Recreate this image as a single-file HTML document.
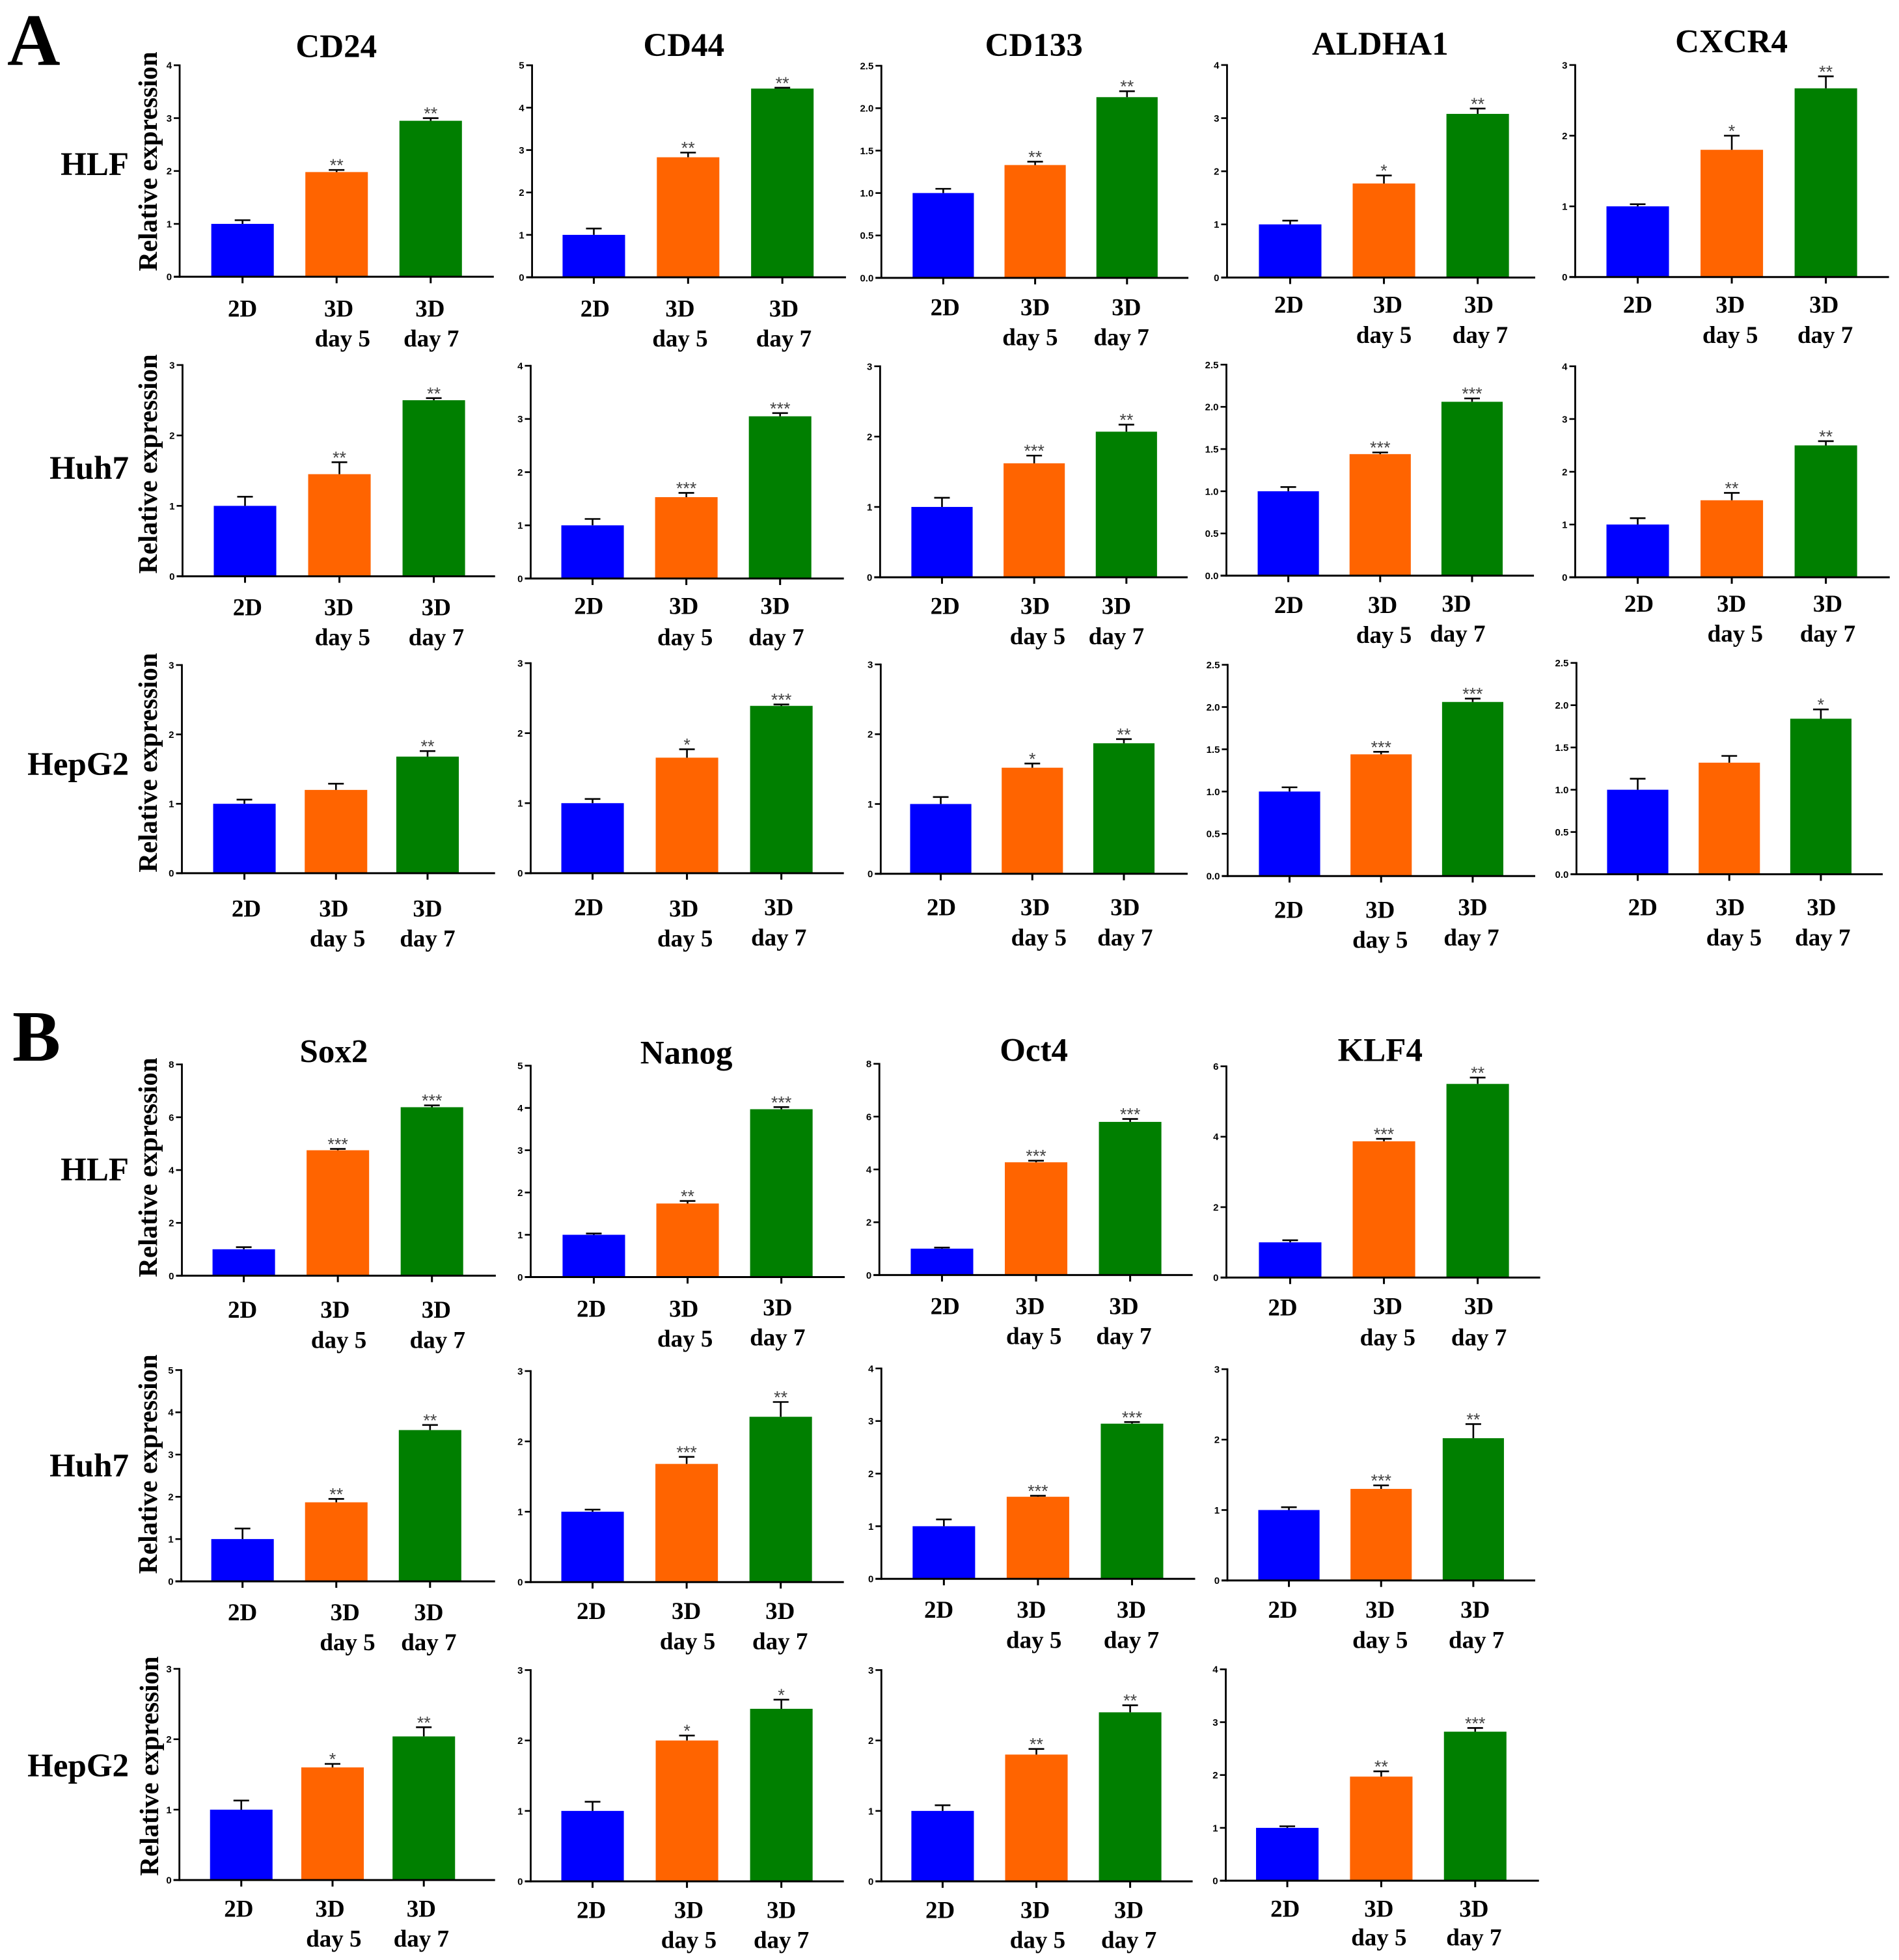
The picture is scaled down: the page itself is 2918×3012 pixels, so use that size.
<!DOCTYPE html>
<html lang="en">
<head>
<meta charset="utf-8">
<title>Relative expression of stemness markers in 2D and 3D culture</title>
<style>
html,body{margin:0;padding:0;background:#fff;width:2918px;height:3012px;overflow:hidden}
svg{display:block}
text{font-family:"Liberation Serif",serif;font-weight:bold;fill:#000}
.tick{font-family:"Liberation Sans",sans-serif;font-size:15px;text-anchor:end}
.star{font-family:"Liberation Sans",sans-serif;font-size:27px;font-weight:normal;text-anchor:middle;fill:#444}
.cat{font-size:37px;text-anchor:middle}
.title{font-size:51px;text-anchor:middle}
.row{font-size:51px;text-anchor:end}
.ylab{font-size:41px;text-anchor:middle}
</style>
</head>
<body>
<svg id="figure" xmlns="http://www.w3.org/2000/svg" width="2918" height="3012" viewBox="0 0 2918 3012">
<rect width="2918" height="3012" fill="#fff"/>
<text x="11" y="100" font-size="113">A</text>
<text x="19" y="1630" font-size="111">B</text>
<text class="row" x="198" y="269">HLF</text>
<text class="row" x="198" y="736">Huh7</text>
<text class="row" x="198" y="1191">HepG2</text>
<text class="row" x="198" y="1814">HLF</text>
<text class="row" x="198" y="2269">Huh7</text>
<text class="row" x="198" y="2730">HepG2</text>
<text class="ylab" transform="translate(241 248) rotate(-90)">Relative expression</text>
<text class="ylab" transform="translate(241 713) rotate(-90)">Relative expression</text>
<text class="ylab" transform="translate(241 1172) rotate(-90)">Relative expression</text>
<text class="ylab" transform="translate(241 1794) rotate(-90)">Relative expression</text>
<text class="ylab" transform="translate(241 2250) rotate(-90)">Relative expression</text>
<text class="ylab" transform="translate(243 2714) rotate(-90)">Relative expression</text>
</svg>
<script>
/* ---------- chart data ---------- */
const categories = ["2D", "3D", "day 5", "3D", "day 7"];
const barColors = ["#0000ff", "#ff6400", "#007f00"];
const panelNames = [
  "a-hlf-cd24","a-hlf-cd44","a-hlf-cd133","a-hlf-aldha1","a-hlf-cxcr4",
  "a-huh7-cd24","a-huh7-cd44","a-huh7-cd133","a-huh7-aldha1","a-huh7-cxcr4",
  "a-hepg2-cd24","a-hepg2-cd44","a-hepg2-cd133","a-hepg2-aldha1","a-hepg2-cxcr4",
  "b-hlf-sox2","b-hlf-nanog","b-hlf-oct4","b-hlf-klf4",
  "b-huh7-sox2","b-huh7-nanog","b-huh7-oct4","b-huh7-klf4",
  "b-hepg2-sox2","b-hepg2-nanog","b-hepg2-oct4","b-hepg2-klf4"
];
const means = [
  [1,1.98,2.95],[1,2.83,4.45],[1,1.33,2.13],[1,1.77,3.08],[1,1.80,2.67],
  [1,1.45,2.50],[1,1.53,3.05],[1,1.62,2.07],[1,1.44,2.06],[1,1.46,2.50],
  [1,1.20,1.68],[1,1.65,2.39],[1,1.52,1.87],[1,1.44,2.06],[1,1.32,1.84],
  [1,4.75,6.38],[1,1.74,3.97],[1,4.27,5.80],[1,3.87,5.50],
  [1,1.87,3.58],[1,1.68,2.35],[1,1.56,2.95],[1,1.30,2.02],
  [1,1.60,2.04],[1,2.00,2.45],[1,1.80,2.40],[1,1.97,2.82]
];
const errors = [
  [.07,.04,.05],[.15,.11,.02],[.05,.04,.07],[.07,.15,.10],[.03,.20,.17],
  [.13,.17,.03],[.12,.08,.06],[.13,.11,.10],[.05,.02,.04],[.12,.14,.08],
  [.06,.09,.08],[.06,.12,.02],[.10,.06,.06],[.05,.03,.04],[.13,.08,.11],
  [.08,.05,.07],[.03,.06,.05],[.04,.06,.11],[.06,.07,.18],
  [.25,.08,.12],[.03,.10,.21],[.13,.02,.03],[.04,.05,.20],
  [.13,.05,.13],[.13,.07,.13],[.08,.08,.10],[.03,.10,.07]
];
const significance = [
  ["","**","**"],["","**","**"],["","**","**"],["","*","**"],["","*","**"],
  ["","**","**"],["","***","***"],["","***","**"],["","***","***"],["","**","**"],
  ["","","**"],["","*","***"],["","*","**"],["","***","***"],["","","*"],
  ["","***","***"],["","**","***"],["","***","***"],["","***","**"],
  ["","**","**"],["","***","**"],["","***","***"],["","***","**"],
  ["","*","**"],["","*","*"],["","**","**"],["","**","***"]
];
const tickLabels = [
  ["0","1","2","3","4"],["0","1","2","3","4","5"],["0.0","0.5","1.0","1.5","2.0","2.5"],["0","1","2","3","4"],["0","1","2","3"],
  ["0","1","2","3"],["0","1","2","3","4"],["0","1","2","3"],["0.0","0.5","1.0","1.5","2.0","2.5"],["0","1","2","3","4"],
  ["0","1","2","3"],["0","1","2","3"],["0","1","2","3"],["0.0","0.5","1.0","1.5","2.0","2.5"],["0.0","0.5","1.0","1.5","2.0","2.5"],
  ["0","2","4","6","8"],["0","1","2","3","4","5"],["0","2","4","6","8"],["0","2","4","6"],
  ["0","1","2","3","4","5"],["0","1","2","3"],["0","1","2","3","4"],["0","1","2","3"],
  ["0","1","2","3"],["0","1","2","3"],["0","1","2","3"],["0","1","2","3","4"]
];
const columnTitles = [
  {text:"CD24",panel:0,x:269,y:37},{text:"CD44",panel:1,x:547,y:36},{text:"CD133",panel:2,x:827,y:36},
  {text:"ALDHA1",panel:3,x:1104,y:35},{text:"CXCR4",panel:4,x:1385,y:33},
  {text:"Sox2",panel:15,x:267,y:841},{text:"Nanog",panel:16,x:549,y:842},{text:"Oct4",panel:17,x:827,y:840},{text:"KLF4",panel:18,x:1104,y:840}
];

/* ---------- panel geometry (layout only; units = 1/1.921 px) ---------- */
const SCALE = 1.921;
const frames = [
  {l:143.7,t:52.2,z:221.4,r:395,c0:194,c2:344.5,w:50},{l:425.6,t:52.2,z:221.8,r:676.7,c0:475,c2:625.8,w:50},{l:705,t:52.6,z:222.3,r:950.6,c0:754.5,c2:901.5,w:49},{l:981.5,t:52,z:222,r:1228,c0:1032,c2:1182,w:50},{l:1260,t:52,z:221.6,r:1511,c0:1310,c2:1460.5,w:50},
  {l:146,t:292,z:461,r:396,c0:196,c2:347,w:50},{l:424.5,t:292.6,z:462.8,r:675,c0:474,c2:624,w:50},{l:704,t:293,z:461.8,r:950,c0:753.5,c2:901,w:49},{l:981,t:291.7,z:460.5,r:1227,c0:1030.5,c2:1177.5,w:49},{l:1260,t:293,z:461.8,r:1511.6,c0:1310,c2:1460.5,w:50},
  {l:145.5,t:532,z:698.5,r:396,c0:195.5,c2:342,w:50},{l:424.5,t:530.5,z:698.5,r:675,c0:474,c2:625,w:50},{l:704.5,t:531.5,z:699,r:950,c0:752.5,c2:899,w:49},{l:982,t:531.8,z:700.8,r:1228,c0:1031.5,c2:1178,w:49},{l:1261,t:530.3,z:699.4,r:1506,c0:1310,c2:1456.5,w:49},
  {l:145.5,t:851.5,z:1020.5,r:396.6,c0:195,c2:345.5,w:50},{l:424.5,t:852.5,z:1021.6,r:675.7,c0:475,c2:625,w:50},{l:703.4,t:851,z:1020,r:954,c0:753.5,c2:904,w:50},{l:981,t:853,z:1022,r:1232,c0:1032,c2:1182,w:50},
  {l:145,t:1096,z:1265,r:396,c0:194,c2:344,w:50},{l:424.5,t:1096.8,z:1265.6,r:675,c0:474,c2:624.5,w:50},{l:705,t:1094.7,z:1263,r:956,c0:755,c2:905.5,w:50},{l:981.8,t:1095.3,z:1264.3,r:1228,c0:1031,c2:1178.5,w:49},
  {l:143.5,t:1335,z:1504,r:396,c0:193,c2:339,w:50},{l:424.5,t:1336,z:1505,r:675,c0:474,c2:625,w:50},{l:705,t:1336,z:1505,r:954,c0:754,c2:904,w:50},{l:980.5,t:1335.4,z:1504.5,r:1231,c0:1029.7,c2:1180,w:50}
];
/* category label anchor per panel: 2D, 3D, day 5, 3D, day 7 as x,y */
const labelSpots = [
  [194,247,271,247,274,271,344,247,345,271],[476,247,544,247,544,271,627,247,627,271],[756,246,828,246,824,270,901,246,897,270],[1031,244,1110,244,1107,268,1183,244,1184,268],[1310,244,1384,244,1384,268,1459,244,1460,268],
  [198,486,271,486,274,510,349,486,349,510],[471,485,547,485,548,510,620,485,621,510],[756,485,828,485,830,509,893,485,893,509],[1031,484,1106,484,1107,508,1165,483,1166,507],[1311,483,1385,483,1388,507,1462,483,1462,507],
  [197,727,267,727,270,751,342,727,342,751],[471,726,547,727,548,751,623,726,623,750],[753,726,828,726,831,750,900,726,900,750],[1031,728,1104,728,1104,752,1178,726,1177,750],[1314,726,1384,726,1387,750,1457,726,1458,750],
  [194,1048,268,1048,271,1072,349,1048,350,1072],[473,1047,547,1047,548,1071,622,1046,622,1070],[756,1045,824,1045,827,1069,899,1045,899,1069],[1026,1046,1110,1045,1110,1070,1183,1045,1183,1070],
  [194,1290,276,1290,278,1314,343,1290,343,1314],[473,1289,549,1289,550,1313,624,1289,624,1313],[751,1288,825,1288,827,1312,905,1288,905,1312],[1026,1288,1104,1288,1104,1312,1180,1288,1181,1312],
  [191,1527,264,1527,267,1551,337,1527,337,1551],[473,1528,551,1528,551,1552,625,1528,625,1552],[752,1528,828,1528,830,1552,903,1528,903,1552],[1028,1527,1103,1527,1103,1550,1179,1527,1179,1550]
];

/* ---------- drawing ---------- */
const SVGNS = "http://www.w3.org/2000/svg";
const figure = document.getElementById("figure");

function make(tag, attrs, parent) {
  const node = document.createElementNS(SVGNS, tag);
  for (const key in attrs) node.setAttribute(key, attrs[key]);
  parent.appendChild(node);
  return node;
}
function yAxisScale(frame, maxValue) {
  return function (v) {
    return SCALE * (frame.z - (frame.z - frame.t) * v / maxValue);
  };
}
function xAxisScale(frame) {
  return function (i) {
    return SCALE * (frame.c0 + (frame.c2 - frame.c0) * i / 2);
  };
}

panelNames.forEach(function (name, p) {
  const frame = frames[p];
  const labels = tickLabels[p];
  const maxValue = parseFloat(labels[labels.length - 1]);
  const y = yAxisScale(frame, maxValue);
  const x = xAxisScale(frame);
  const left = frame.l * SCALE;
  const right = frame.r * SCALE;
  const zero = y(0);

  const g = make("g", {}, figure);
  
  

  means[p].forEach(function (value, i) {
    const cx = x(i);
    const halfW = frame.w * SCALE / 2;
    const top = y(value);
    const bar = make("rect", {x: cx - halfW, y: top, width: halfW * 2, height: zero - top, fill: barColors[i]}, g);
    
    

    const capY = y(value + errors[p][i]);
    const err = make("path", {d: "M" + cx + " " + top + "V" + capY + "M" + (cx - 12) + " " + capY + "H" + (cx + 12), stroke: "#000", "stroke-width": 2.6, fill: "none"}, g);
    
    

    if (significance[p][i]) {
      const star = make("text", {class: "star", x: cx, y: capY + 2}, g);
      star.textContent = significance[p][i];
      
      
    }

    const xTick = make("line", {x1: cx, x2: cx, y1: zero, y2: zero + 10, stroke: "#000", "stroke-width": 3}, g);
    
    
  });

  const yLine = make("line", {x1: left, x2: left, y1: y(maxValue) - 1.3, y2: zero + 1.5, stroke: "#000", "stroke-width": 2.8}, g);
  
  

  const xLine = make("line", {x1: left - 9, x2: right, y1: zero, y2: zero, stroke: "#000", "stroke-width": 3}, g);
  
  

  labels.forEach(function (label) {
    const v = parseFloat(label);
    const yTick = make("line", {x1: left - 9, x2: left, y1: y(v), y2: y(v), stroke: "#000", "stroke-width": 2.6}, g);
    
    

    const tickText = make("text", {class: "tick", x: left - 12, y: y(v) + 5.4}, g);
    tickText.textContent = label;
    
    
  });

  categories.forEach(function (cat, c) {
    const catText = make("text", {class: "cat", x: labelSpots[p][c * 2] * SCALE, y: labelSpots[p][c * 2 + 1] * SCALE + 12}, g);
    catText.textContent = cat;
    
    
  });
});

columnTitles.forEach(function (t) {
  const title = make("text", {class: "title", x: t.x * SCALE, y: t.y * SCALE + 17}, figure);
  title.textContent = t.text;
  
  
});
</script>
</body>
</html>
